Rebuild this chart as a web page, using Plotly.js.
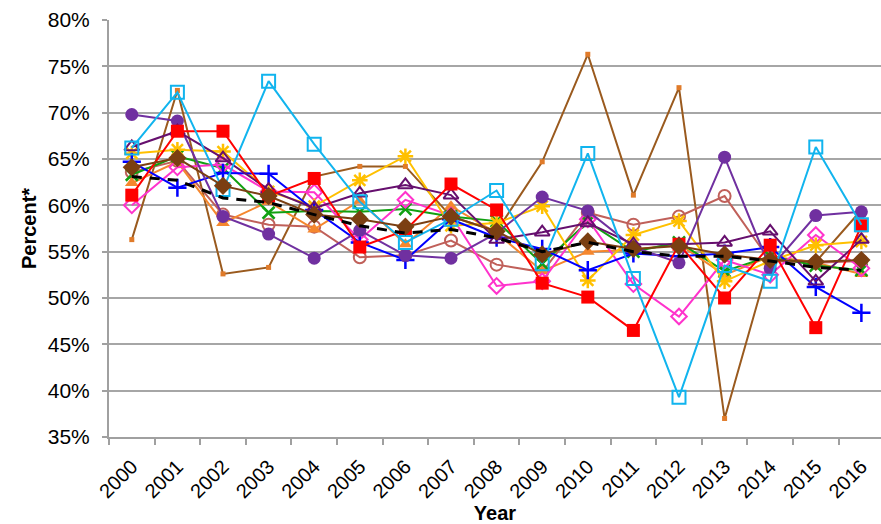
<!DOCTYPE html>
<html><head><meta charset="utf-8">
<script src="https://cdn.plot.ly/plotly-3.0.1.min.js"></script>
<style>html,body{margin:0;padding:0;background:#fff}#chart{width:881px;height:524px}</style>
</head><body><div id="chart"></div>
<script>
const years = ["2000","2001","2002","2003","2004","2005","2006","2007","2008","2009","2010","2011","2012","2013","2014","2015","2016"];
const brownThin  = [56.3,72.4,52.6,53.3,63.1,64.2,64.2,58.8,57.2,64.7,76.3,61.1,72.7,37.0,54.3,53.9,59.5];
const roseCircle = [63.6,64.8,59.0,57.9,57.7,54.4,54.6,56.2,53.6,52.8,59.2,57.9,58.8,61.0,54.0,53.8,54.0];
const orangeTri  = [62.4,64.7,58.1,60.4,57.4,60.5,55.8,59.9,57.0,52.9,55.0,55.2,55.8,52.5,54.5,53.8,52.6];
const greenX     = [63.3,65.3,64.0,59.2,59.4,59.3,59.6,58.8,58.3,53.7,58.2,55.0,56.0,52.9,54.5,53.5,53.0];
const pinkDiam   = [60.0,64.1,64.4,61.5,61.4,56.3,60.6,58.9,51.3,51.8,58.5,51.5,48.0,54.1,52.5,56.8,53.2];
const yellowStar = [65.6,66.0,65.8,61.5,59.9,62.7,65.3,57.8,58.1,59.9,51.9,56.8,58.3,51.8,54.0,55.7,56.1];
const blueCross  = [64.7,61.9,63.5,63.4,59.5,56.0,54.1,58.5,56.5,55.3,53.0,54.8,54.5,54.8,55.5,51.2,48.4];
const purpleDot  = [69.8,69.1,58.8,56.9,54.3,57.3,54.6,54.3,57.0,60.9,59.4,55.5,53.8,65.2,53.2,58.9,59.3];
const purpleTri  = [66.3,68.0,65.1,61.7,59.7,61.3,62.2,61.1,56.3,57.1,58.1,55.8,55.8,56.0,57.2,51.8,56.3];
const redSquare  = [61.1,68.0,68.0,61.0,62.9,55.5,57.3,62.3,59.5,51.6,50.1,46.5,55.8,50.0,55.7,46.8,57.8];
const cyanSquare = [66.2,72.2,61.7,73.4,66.6,60.4,56.0,58.5,61.6,53.7,65.6,52.1,39.3,53.5,51.8,66.3,57.9];
const brownDiam  = [64.1,65.1,62.1,61.0,59.0,58.5,57.7,58.8,57.2,54.7,56.1,55.3,55.6,54.7,54.1,53.9,54.1];
const average    = [63.1,62.7,60.8,60.3,59.0,57.8,57.0,57.4,56.5,55.0,56.0,55.0,54.5,54.5,54.0,53.3,53.0];

function tr(y, color, symbol, size, opts) {
  opts = opts || {};
  return {
    x: years, y: y, type: "scatter", mode: "lines+markers",
    line: {color: opts.lineColor || color, width: opts.lw || 2},
    marker: {symbol: symbol, size: size, color: opts.fill || color,
             line: {color: opts.mlColor || color, width: opts.mlw == null ? 2 : opts.mlw}},
    hoverinfo: "skip"
  };
}
const data = [
  tr(brownThin, "#9A5A1E", "square", 5, {fill: "#E07B2A", mlColor: "#E07B2A", mlw: 0}),
  tr(roseCircle, "#C0605A", "circle-open", 12),
  tr(orangeTri, "#F5872E", "triangle-up", 12, {mlw: 0}),
  tr(greenX, "#11A011", "x-thin-open", 12, {mlw: 2.5}),
  tr(pinkDiam, "#FF33CC", "diamond-open", 12),
  tr(yellowStar, "#FFC000", "asterisk-open", 13, {mlw: 2.5}),
  tr(blueCross, "#0000FF", "cross-thin-open", 13, {mlw: 2.5}),
  tr(purpleDot, "#7030A0", "circle", 13, {mlw: 0}),
  tr(purpleTri, "#660F6E", "triangle-up-open", 13),
  tr(redSquare, "#FF0000", "square", 13, {mlw: 0}),
  tr(cyanSquare, "#11B4EE", "square-open", 13),
  tr(brownDiam, "#7B3F12", "diamond", 14, {mlw: 0}),
  {x: years, y: average, type: "scatter", mode: "lines",
   line: {color: "#000000", width: 3, dash: "10px,8px"}, hoverinfo: "skip"}
];
const layout = {
  width: 881, height: 524,
  margin: {l: 109, r: 0, t: 20, b: 87},
  showlegend: false,
  paper_bgcolor: "#ffffff", plot_bgcolor: "#ffffff",
  font: {family: "Liberation Sans, Arial, sans-serif", color: "#000"},
  xaxis: {
    type: "category", range: [-0.5, 16.43], tickson: "boundaries",
    ticks: "outside", ticklen: 6, tickcolor: "#A0A0A0", tickwidth: 2,
    tickangle: -45, tickfont: {size: 20, color: "#000"}, ticklabelstandoff: 8,
    showgrid: false, showline: true, linecolor: "#A0A0A0", linewidth: 2,
    title: {text: "<b>Year</b>", font: {size: 20, color: "#000"}, standoff: 4},
    zeroline: false
  },
  yaxis: {
    range: [35, 80], dtick: 5, tick0: 35, ticksuffix: "%",
    ticks: "outside", ticklen: 5, tickcolor: "#A0A0A0", tickwidth: 2,
    tickfont: {size: 21, color: "#000"}, ticklabelstandoff: 8,
    showgrid: true, gridcolor: "#A6A6A6", gridwidth: 2,
    showline: true, linecolor: "#A0A0A0", linewidth: 2,
    title: {text: "<b>Percent*</b>", font: {size: 20, color: "#000"}, standoff: 6},
    zeroline: false
  }
};
Plotly.newPlot("chart", data, layout, {staticPlot: true});
</script></body></html>
